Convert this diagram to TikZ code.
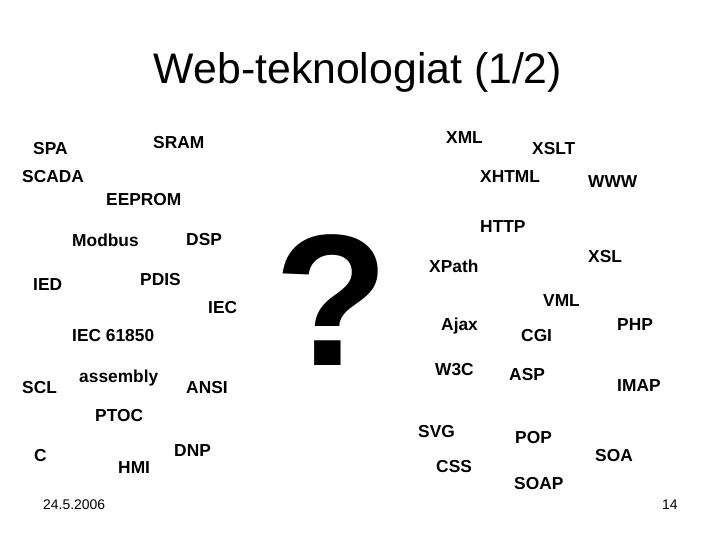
\documentclass[tikz,border=0pt]{standalone}
\usepackage{fontspec}
\setmainfont{Liberation Sans}
\begin{document}
\begin{tikzpicture}[x=0.03cm, y=-0.03cm,
		term/.style={anchor=base west, inner sep=0pt, font=\fontsize{14.8}{16}\selectfont\bfseries},
		foot/.style={anchor=base west, inner sep=0pt, font=\fontsize{11.9}{13}\selectfont}]
		\useasboundingbox (0,0) rectangle (720,540);
		\node[anchor=base, inner sep=0pt, font=\fontsize{36.5}{40}\selectfont] (title) at (358,84) {Web-teknologiat (1/2)};
		\node[anchor=base, inner sep=0pt, font=\fontsize{160}{160}\selectfont\bfseries] (qmark) at (332,366) {?};
		% left group
		\node[term] (spa) at (33,155) {SPA};
		\node[term] (sram) at (153,149) {SRAM};
		\node[term] (scada) at (22,183) {SCADA};
		\node[term] (eeprom) at (106,206) {EEPROM};
		\node[term] (modbus) at (72,247) {Modbus};
		\node[term] (dsp) at (186,246) {DSP};
		\node[term] (ied) at (33,291) {IED};
		\node[term] (pdis) at (140,286) {PDIS};
		\node[term] (iec) at (208,314) {IEC};
		\node[term] (iec61850) at (72,342) {IEC 61850};
		\node[term] (scl) at (22,393) {SCL};
		\node[term] (assembly) at (79,382) {assembly};
		\node[term] (ansi) at (186,393) {ANSI};
		\node[term] (ptoc) at (95,422) {PTOC};
		\node[term] (c) at (34,461) {C};
		\node[term] (hmi) at (118,473) {HMI};
		\node[term] (dnp) at (174,456) {DNP};
		% right group
		\node[term] (xml) at (446,144) {XML};
		\node[term] (xslt) at (532,155) {XSLT};
		\node[term] (xhtml) at (480,183) {XHTML};
		\node[term] (www) at (588,188) {WWW};
		\node[term] (http) at (480,233) {HTTP};
		\node[term] (xpath) at (429,273) {XPath};
		\node[term] (xsl) at (588,263) {XSL};
		\node[term] (vml) at (543,307) {VML};
		\node[term] (ajax) at (441,331) {Ajax};
		\node[term] (cgi) at (521,342) {CGI};
		\node[term] (php) at (617,331) {PHP};
		\node[term] (w3c) at (435,376) {W3C};
		\node[term] (asp) at (509,381) {ASP};
		\node[term] (imap) at (617,392) {IMAP};
		\node[term] (svg) at (418,438) {SVG};
		\node[term] (pop) at (515,443) {POP};
		\node[term] (soa) at (595,461) {SOA};
		\node[term] (css) at (436,472) {CSS};
		\node[term] (soap) at (514,489) {SOAP};
		%
		\node[foot] (date) at (43,509) {24.5.2006};
		\node[foot] (page) at (662,509) {14};
	\end{tikzpicture}
\end{document}
